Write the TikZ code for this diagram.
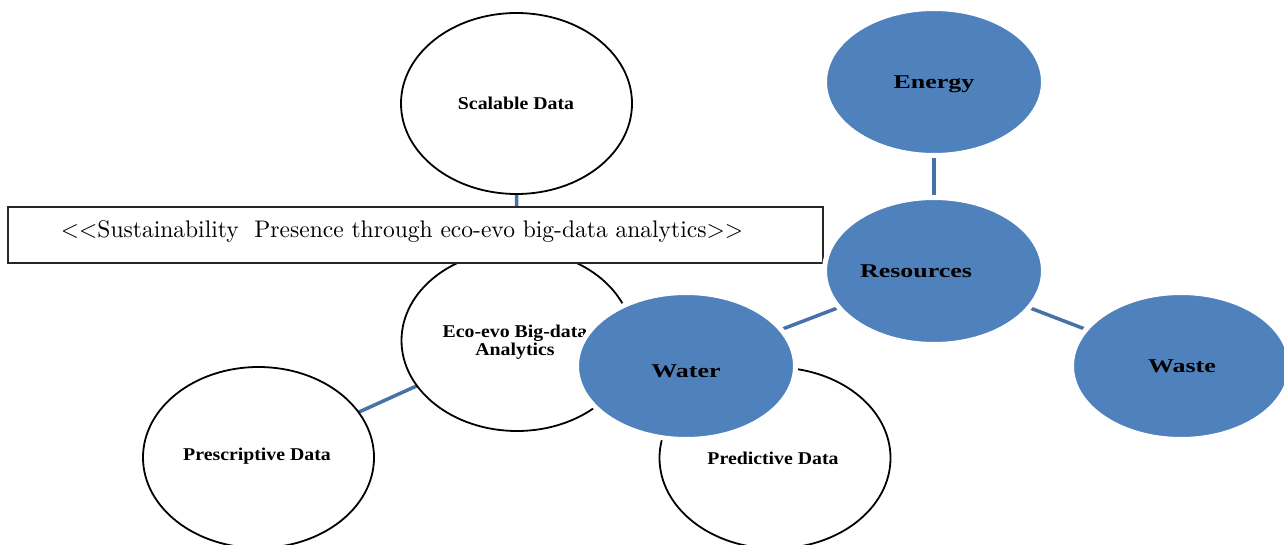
\documentclass[tikz,border=0pt]{standalone}
\usepackage{fontspec}
\usetikzlibrary{shapes.geometric,backgrounds}
\newfontfamily\lblfont[FakeStretch=1.1]{Liberation Serif}
\newfontfamily\bluefont[FakeStretch=1.33]{Liberation Serif}
\newfontfamily\boxfont[Extension=.otf,FakeStretch=0.98]{lmroman10-regular}
\definecolor{blueFill}{HTML}{4F81BD}
\definecolor{linkBlue}{HTML}{4672A8}
\begin{document}
\begin{tikzpicture}[x=1pt,y=-1pt,
  whitecirc/.style={ellipse, draw=black, line width=1.8pt, fill=white,
    minimum width=231pt, minimum height=181pt, inner sep=0pt},
  bluecirc/.style={ellipse, draw=white, line width=5pt, fill=blueFill,
    minimum width=219pt, minimum height=147pt, inner sep=0pt},
  wtxt/.style={font=\lblfont\bfseries\fontsize{18}{16}\selectfont, align=center, inner sep=0pt},
  btxt/.style={font=\bluefont\bfseries\fontsize{19.5}{19.5}\selectfont, inner sep=0pt},
  link/.style={draw=linkBlue, line width=3.5pt},
  titlebox/.style={draw=black!85, line width=1.3pt, fill=white, minimum width=815pt, minimum height=56pt, inner sep=0pt}
]
\useasboundingbox (0,0) rectangle (1284,545);

% white circles
\node[whitecirc] (scal) at (516.5,103.5) {};
\node[wtxt] (scalT) at (516,103) {Scalable Data};
\node[whitecirc] (eco) at (517,340.5) {};
\node[wtxt] (ecoT) at (515,342) {Eco-evo Big-data\\Analytics};
\node[titlebox] (box) at (415.5,235) {};
\node[inner sep=0pt, font=\boxfont\fontsize{24}{24}\selectfont] (boxT) at (402,232) {{<}{<}Sustainability\ \ Presence through eco-evo big-data analytics{>}{>}};
\node[whitecirc] (presc) at (258.5,457.5) {};
\node[wtxt] (prescT) at (257,456) {Prescriptive Data};
\node[whitecirc] (pred) at (775,458) {};
\node[wtxt] (predT) at (773,458) {Predictive Data};

% blue ellipses
\node[bluecirc] (water) at (686,366) {};
\node[btxt] (waterT) at (686,371) {Water};
\node[bluecirc] (res) at (934,271) {};
\node[btxt] (resT) at (916,271) {Resources};
\node[bluecirc] (energy) at (934,82) {};
\node[btxt] (energyT) at (934,84) {Energy};
\node[bluecirc] (waste) at (1181,366) {};
\node[btxt] (wasteT) at (1182,366) {Waste};

% connectors
\begin{scope}[on background layer]
  \draw[link] (scal.center) -- (eco.center);
  \draw[link] (eco.center) -- (presc.center);
  \draw[link] (energy.center) -- (res.center);
  \draw[link] (res.center) -- (water.center);
  \draw[link] (res.center) -- (waste.center);
\end{scope}
\end{tikzpicture}
\end{document}
